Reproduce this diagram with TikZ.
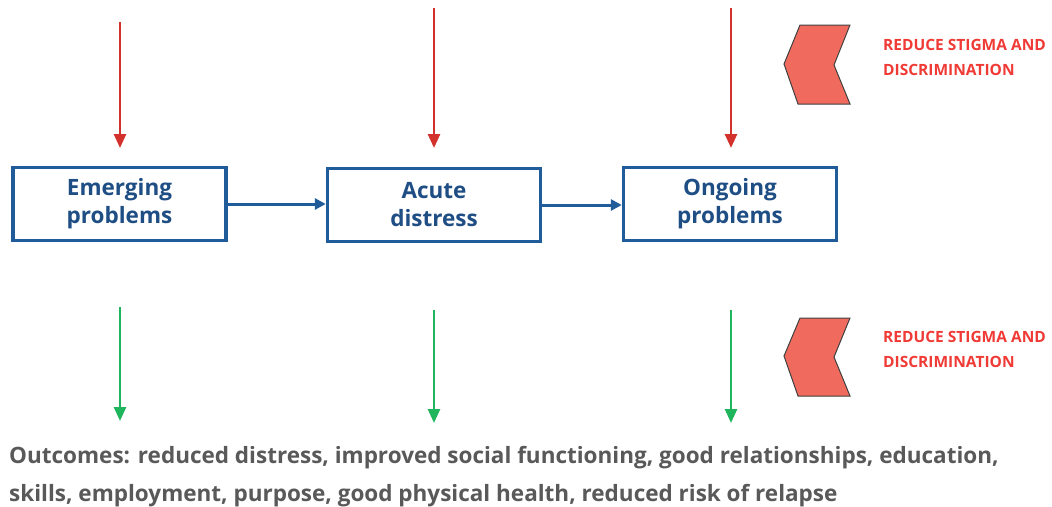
\documentclass[tikz,border=0pt]{standalone}
\usepackage{fontspec}
\setmainfont{Open Sans}
\usetikzlibrary{arrows.meta}
\definecolor{boxblue}{HTML}{1F5C99}
\definecolor{txtblue}{HTML}{1F4E85}
\definecolor{redarr}{HTML}{D2322B}
\definecolor{greenarr}{HTML}{1FB55C}
\definecolor{chevfill}{HTML}{F06B5E}
\definecolor{redtxt}{HTML}{F03A35}
\definecolor{graytxt}{HTML}{595959}
\tikzset{
  stagebox/.style={draw=boxblue, line width=3.4pt, minimum width=213pt, minimum height=73pt,
    inner sep=0pt, align=center, text=txtblue, font=\fontsize{22.5}{28}\selectfont\bfseries},
  flow/.style={draw=boxblue, line width=3pt, -{Triangle[width=11pt,length=11pt]}},
  redarrow/.style={draw=redarr, line width=2.6pt, -{Triangle[width=12pt,length=14pt]}},
  greenarrow/.style={draw=greenarr, line width=2.6pt, -{Triangle[width=12pt,length=14pt]}},
  chevron/.style={fill=chevfill, draw=black!75, line width=1pt, line join=miter},
  redlabel/.style={anchor=base west, align=left, text=redtxt, inner sep=0pt,
    font=\fontsize{15.5}{25}\selectfont\bfseries},
}
\begin{document}
\begin{tikzpicture}[x=1pt,y=-1pt]
\useasboundingbox (0,0) rectangle (1052,506);
% boxes
\node[stagebox] (b1) at (119.5,204) {Emerging\\problems};
\node[stagebox] (b2) at (434,205) {Acute\\distress};
\node[stagebox] (b3) at (730,204) {Ongoing\\problems};
\draw[flow] (b1.east) -- (b2.west |- b1.east);
\draw[flow] (b2.east) -- (b3.west |- b2.east);
% red arrows
\coordinate (r1s) at (120,22);  \coordinate (r1e) at (120,148);
\coordinate (r2s) at (434,8);   \coordinate (r2e) at (434,148);
\coordinate (r3s) at (731,8);   \coordinate (r3e) at (731,148);
\draw[redarrow] (r1s) -- (r1e);
\draw[redarrow] (r2s) -- (r2e);
\draw[redarrow] (r3s) -- (r3e);
% green arrows
\coordinate (g1s) at (120,307); \coordinate (g1e) at (120,421);
\coordinate (g2s) at (434,310); \coordinate (g2e) at (434,423);
\coordinate (g3s) at (731,310); \coordinate (g3e) at (731,423);
\draw[greenarrow] (g1s) -- (g1e);
\draw[greenarrow] (g2s) -- (g2e);
\draw[greenarrow] (g3s) -- (g3e);
% chevrons
\draw[chevron] (800,25) -- (850,25) -- (834,65) -- (850,104) -- (798,104) -- (784,64) -- cycle;
\draw[chevron] (800,318) -- (850,318) -- (834,357) -- (850,396) -- (798,396) -- (784,356) -- cycle;
\node[redlabel] (t1) at (883,75) {REDUCE STIGMA AND\\DISCRIMINATION};
\node[redlabel] (t2) at (883,367) {REDUCE STIGMA AND\\DISCRIMINATION};
% outcomes
\node[anchor=base west, align=left, inner sep=0pt, text=graytxt,
  font=\fontsize{22.5}{38}\selectfont\bfseries] (out) at (9,501)
  {Outcomes: reduced distress, improved social functioning, good relationships, education,\\
   skills, employment, purpose, good physical health, reduced risk of relapse};
\end{tikzpicture}
\end{document}
